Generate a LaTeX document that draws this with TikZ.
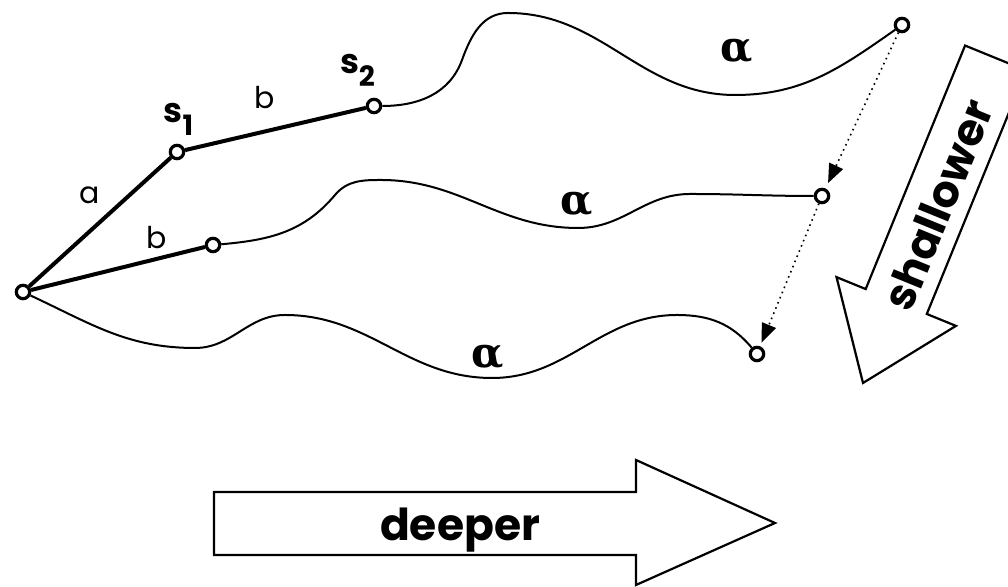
\documentclass[tikz,border=0pt]{standalone}
\usepackage{fontspec}
\setmainfont{Poppins}
\newfontfamily\greekfont{DejaVu Serif}
\usetikzlibrary{arrows.meta}
\tikzset{
  vtx/.style={circle,draw,fill=white,line width=1.6pt,minimum size=6.7pt,inner sep=0pt},
  seg/.style={line width=2pt},
  wave/.style={line width=1pt},
  hint/.style={dotted,line width=0.8pt,-{Triangle[length=9.5pt,width=7.5pt]}},
  bigarrow/.style={draw,line width=1.1pt,line join=miter},
  lbl/.style={font=\fontsize{15}{18}\selectfont},
  slbl/.style={font=\fontsize{17}{20}\selectfont\bfseries,inner sep=0pt},
  alph/.style={font=\fontsize{21}{24}\selectfont\greekfont\bfseries},
  word/.style={font=\fontsize{22}{26}\selectfont\bfseries}
}
\newcommand{\lowidx}[1]{\raisebox{-6.5pt}{\fontsize{14}{16}\selectfont #1}}
\begin{document}
\begin{tikzpicture}[x=0.5pt,y=0.5pt]
        \useasboundingbox (0,0) rectangle (1008,587);
        %points
        \node[vtx] (o) at (23,295) {};
        \node[vtx] (s1) at (177,435) {};
        \node[vtx] (s2) at (374,481) {};
        \node[vtx] (t) at (213,342) {};
        \node[vtx] (e1) at (902,562) {};
        \node[vtx] (e2) at (822,391) {};
        \node[vtx] (e3) at (757,233) {};
        %straight parts
        \draw[seg] (o) -- (s1) -- (s2);
        \draw[seg] (o) -- (t);
        %wavy parts
        \draw[wave] (s2) to[out=0,in=250] (462,527) to[out=70,in=180] (508,574)
            to[out=0,in=180] (735,492) to[out=0,in=215] (e1);
        \draw[wave] (t) to[out=5,in=230] (335,392) to[out=50,in=180] (381,407)
            to[out=0,in=180] (578,359) to[out=0,in=180] (690,393) to[out=0,in=180] (e2);
        \draw[wave] (o) to[out=-25,in=180] (195,239) to[out=0,in=180] (285,272)
            to[out=0,in=180] (492,209) to[out=0,in=180] (677,272) to[out=0,in=130] (e3);
        %dotted arrows
        \draw[hint,shorten >=3pt] (e1) -- (e2);
        \draw[hint,shorten >=2pt] (e2) -- (e3);
        %labels
        \node[lbl] (la) at (90,392) {a};
        \node[lbl] (lb1) at (265,489) {b};
        \node[lbl] (lb2) at (157,349) {b};
        \node[slbl] (ls1) at (178.5,468) {s\lowidx{1}};
        \node[slbl] (ls2) at (357.5,516.5) {s\lowidx{2}};
        \node[alph] (al1) at (737,536) {α};
        \node[alph] (al2) at (577,383) {α};
        \node[alph] (al3) at (488,230) {α};
        %deeper
        \draw[bigarrow] (214,95) -- (636,95) -- (636,127) -- (775,64) -- (636,2)
            -- (636,32) -- (214,32) -- cycle;
        \node[word] (deep) at (460,57) {deeper};
        %shallower
        \begin{scope}[shift={(863,204)},rotate=247.8]
        \draw[bigarrow] (-351,33) -- (-88,33) -- (-88,64.5) -- (0,0) -- (-88,-64.5)
            -- (-88,-33) -- (-351,-33) -- cycle;
        \end{scope}
        \node[word,rotate=67.8] (shal) at (938,382) {shallower};
\end{tikzpicture}
\end{document}
